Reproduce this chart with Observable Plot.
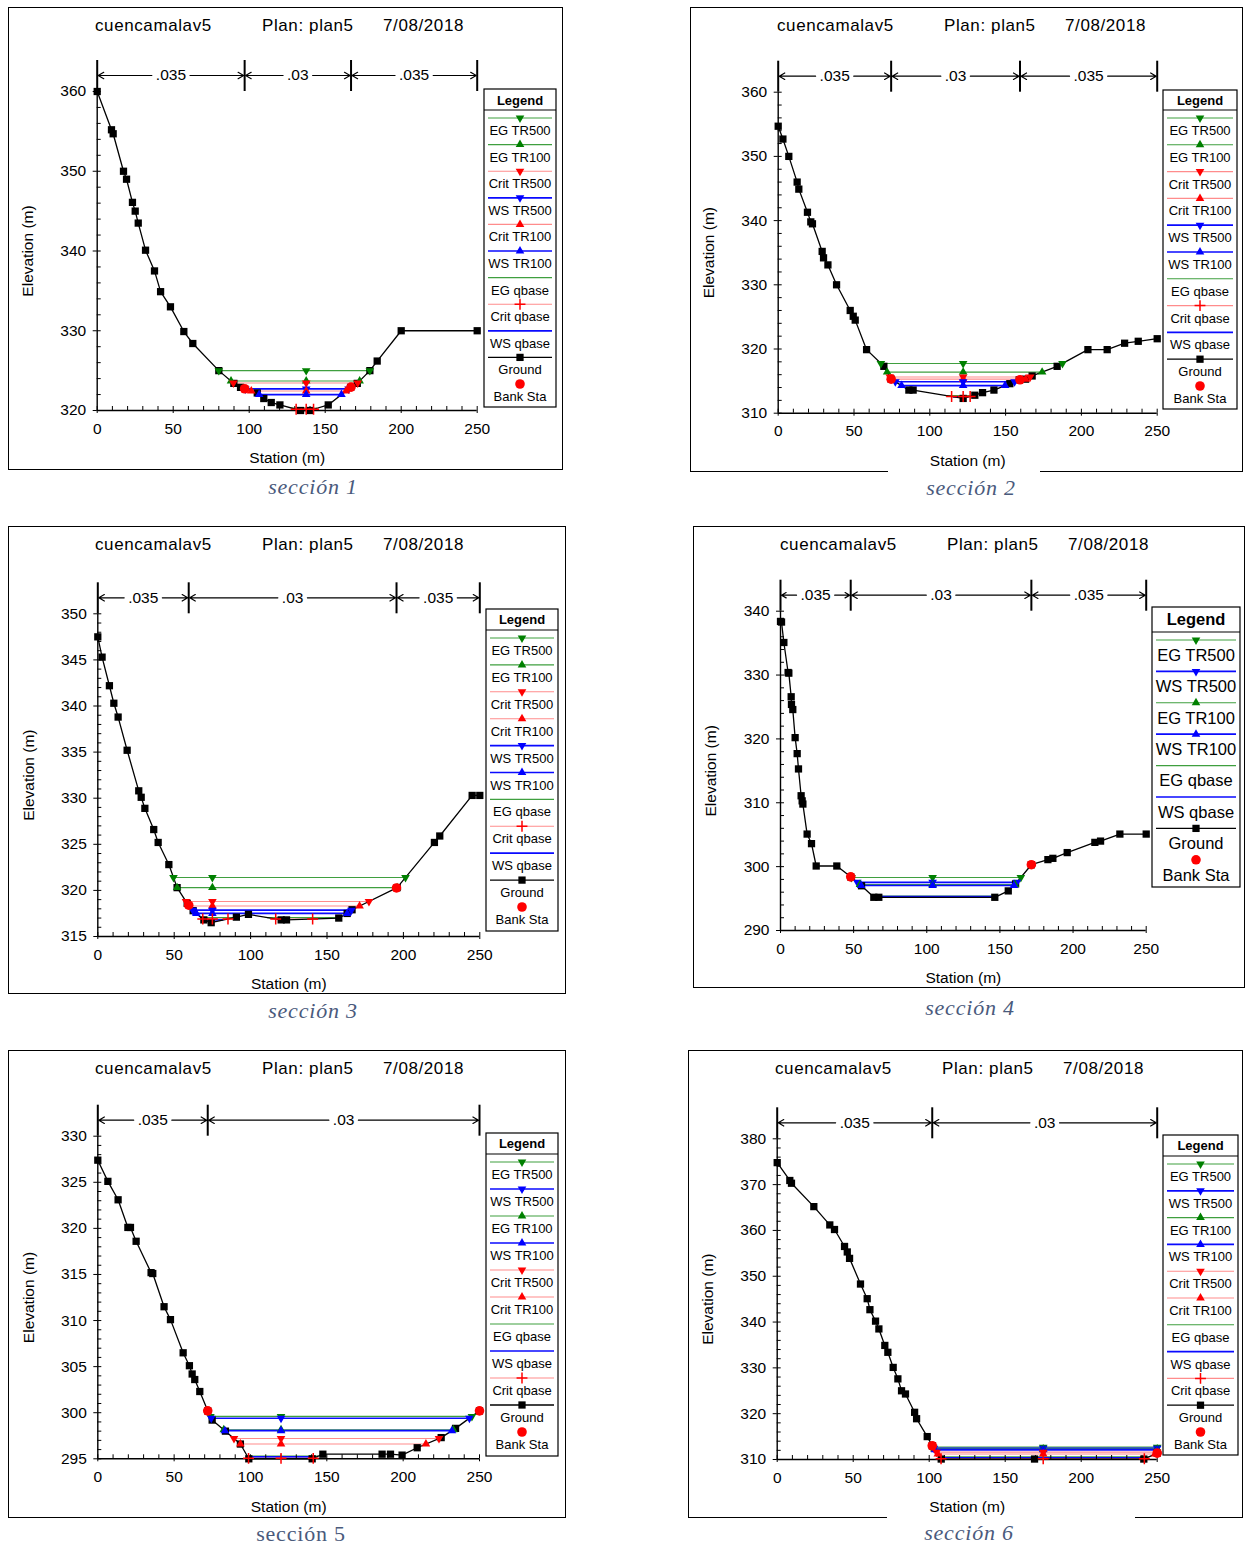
<!DOCTYPE html>
<html>
<head>
<meta charset="utf-8">
<script src="https://cdn.jsdelivr.net/npm/d3@7"></script>
<script src="https://cdn.jsdelivr.net/npm/@observablehq/plot@0.6"></script>
<style>
html,body{margin:0;padding:0;background:#fff;}
body{position:relative;width:1246px;height:1544px;overflow:hidden;font-family:"Liberation Sans",Arial,sans-serif;}
.box{position:absolute;border:1.4px solid #000;box-sizing:border-box;}
.ttl{position:absolute;font-size:17px;letter-spacing:0.6px;white-space:nowrap;transform:translateY(-50%);color:#000;line-height:1;}
.cap{position:absolute;font-family:"Liberation Serif","Times New Roman",serif;font-size:22px;letter-spacing:0.8px;color:#4a5a7c;white-space:nowrap;transform:translate(-50%,-50%);line-height:1;}
.mask{position:absolute;background:#fff;}
.layer{position:absolute;}
</style>
</head>
<body>
<script>
// ---------------- DATA ----------------
const xTicks = [0, 50, 100, 150, 200, 250];
const titleParts = ["cuencamalav5", "Plan: plan5", "7/08/2018"];
const captions = ["sección 1", "sección 2", "sección 3", "sección 4", "sección 5", "sección 6"];

// Section 1
const ground1 = [[0,360],[9.4,355.2],[10.5,354.7],[17.3,350],[19.3,349],[23.2,346.1],[25,345],[27,343.5],[31.8,340.1],[37.7,337.5],[41.7,334.9],[48.2,333],[57,329.9],[62.9,328.4],[80,325],[89.9,323.4],[94.3,322.9],[105.3,322.2],[109.6,321.5],[114.5,321],[120.2,320.7],[133.8,320],[139.7,320],[152,320.7],[166.7,322.9],[171.1,323.4],[179.4,325],[184.2,326.2],[200,330],[250,330]];
const banks1 = [97, 167];
const nValues1 = [".035", ".03", ".035"];
const names1 = ["EG TR500","EG TR100","Crit TR500","WS TR500","Crit TR100","WS TR100","EG qbase","Crit qbase","WS qbase"];
const levels1 = [325.0, 323.7, 323.45, 322.7, 322.45, 322.0, 320.3, 320.15, 320.1];
const mid1 = 137.5;
const yTicks1 = [320, 330, 340, 350, 360];

// Section 2
const ground2 = [[0,354.7],[3.1,352.7],[7,350],[12.5,346],[13.6,344.9],[19.3,341.3],[21.5,339.8],[22.6,339.5],[29,335.2],[29.9,334.2],[32.8,333.1],[38.5,330],[47.5,326],[49.5,325.1],[50.8,324.5],[58.3,319.9],[69.7,317.3],[74.5,315.3],[86.2,313.6],[89,313.6],[122,312.3],[129.7,312.8],[134.8,313.2],[142.3,313.6],[152.8,314.6],[159,315.2],[163.2,315.3],[167.5,315.8],[184,317.3],[204.3,319.9],[217,319.9],[228.5,320.9],[237.5,321.2],[250,321.6]];
const banks2 = [74.5, 159.5];
const nValues2 = [".035", ".03", ".035"];
const names2 = ["EG TR500","EG TR100","Crit TR500","Crit TR100","WS TR500","WS TR100","EG qbase","Crit qbase","WS qbase"];
const levels2 = [317.75, 316.4, 315.65, 315.3, 314.9, 314.3, 312.75, 312.6, 312.55];
const mid2 = 122;
const yTicks2 = [310, 320, 330, 340, 350, 360];

// Section 3
const ground3 = [[0,347.5],[2.8,345.3],[7.6,342.2],[10.5,340.3],[13.3,338.8],[19.2,335.2],[26.8,330.8],[28.4,330.1],[30.8,328.9],[36.6,326.6],[39.5,325.2],[46.5,322.8],[51.9,320.3],[58.5,318.6],[62.4,317.8],[69.4,316.8],[74.2,316.5],[90.7,317.1],[98.6,317.4],[120,316.8],[123.5,316.8],[157.7,317.0],[163.2,317.5],[166.4,317.9],[195.9,320.3],[220.3,325.2],[223.8,325.9],[245,330.3],[250,330.3]];
const banks3 = [59.5, 195.5];
const nValues3 = [".035", ".03", ".035"];
const names3 = ["EG TR500","EG TR100","Crit TR500","Crit TR100","WS TR500","WS TR100","EG qbase","Crit qbase","WS qbase"];
const levels3 = [321.4, 320.3, 318.8, 318.3, 317.85, 317.5, 317.05, 316.9, 316.8];
const mid3 = 75;
const yTicks3 = [315, 320, 325, 330, 335, 340, 345, 350];

// Section 4
const ground4 = [[0,338.4],[0.7,338.3],[2.3,335.1],[5.2,330.4],[5.7,330.3],[7.3,326.6],[7.5,325.4],[8.4,324.6],[10,320.2],[11.4,317.7],[12.3,315.3],[14.1,311.1],[14.8,310.3],[15.3,309.8],[18.2,305.1],[21.2,303.6],[24.4,300.1],[38.5,300.1],[48,298.4],[55.4,297],[63.8,295.2],[67.2,295.2],[146.5,295.2],[155.7,296.2],[160.7,297.3],[171.5,300.3],[182.8,301.1],[186.2,301.3],[196,302.2],[214.9,303.8],[218.8,304],[232,305.1],[250,305.1]];
const banks4 = [48, 171.5];
const nValues4 = [".035", ".03", ".035"];
const names4 = ["EG TR500","WS TR500","EG TR100","WS TR100","EG qbase","WS qbase"];
const levels4 = [298.3, 297.55, 297.2, 297.05, 295.4, 295.3];
const mid4 = 104;
const yTicks4 = [290, 300, 310, 320, 330, 340];

// Section 5
const ground5 = [[0,327.4],[6.6,325.1],[13.3,323.1],[19.7,320.1],[21.4,320.1],[25.1,318.6],[34.9,315.2],[36,315.1],[43.4,311.5],[47.6,310.1],[55.9,306.5],[60,305.1],[61.8,304.2],[63.5,303.6],[66.8,302.3],[72,300.2],[74.9,299.2],[83.6,298],[93.4,296.6],[98.9,295],[140.4,295],[147.4,295.5],[186.2,295.5],[191.7,295.5],[199.3,295.4],[209.2,296.2],[224.9,297.3],[234.3,298.3],[250,300.2]];
const banks5 = [72, 250];
const nValues5 = [".035", ".03"];
const names5 = ["EG TR500","WS TR500","EG TR100","WS TR100","Crit TR500","Crit TR100","EG qbase","WS qbase","Crit qbase"];
const levels5 = [299.6, 299.4, 298.15, 298.05, 297.2, 296.6, 295.3, 295.2, 295.05];
const mid5 = 120;
const yTicks5 = [295, 300, 305, 310, 315, 320, 325, 330];

// Section 6
const ground6 = [[0,374.8],[8.3,370.9],[9.4,370.3],[24.1,365.2],[34.6,361.2],[37.7,360.2],[44.3,356.5],[46.1,355.3],[47.6,353.9],[54.8,348.3],[59.2,345.1],[61,342.7],[64.7,340.2],[66.9,338.5],[70.8,334.9],[72.8,333.4],[76.3,330.1],[79.4,327.6],[81.8,325],[84.4,324.3],[90.4,320.3],[91.7,318.9],[98.7,315],[102,313],[107.9,310.1],[169.3,310.1],[241.2,310.1],[250,311.4]];
const banks6 = [102, 250];
const nValues6 = [".035", ".03"];
const names6 = ["EG TR500","WS TR500","EG TR100","WS TR100","Crit TR500","Crit TR100","EG qbase","WS qbase","Crit qbase"];
const levels6 = [312.7, 312.45, 312.3, 312.1, 311.6, 311.2, 310.6, 310.35, 310.15];
const mid6 = 175;
const yTicks6 = [310, 320, 330, 340, 350, 360, 370, 380];

// ---------------- LAYOUT ----------------
const sections = [
  {ground: ground1, banks: banks1, nValues: nValues1, names: names1, levels: levels1, mid: mid1, yTicks: yTicks1, minor: 2},
  {ground: ground2, banks: banks2, nValues: nValues2, names: names2, levels: levels2, mid: mid2, yTicks: yTicks2, minor: 2},
  {ground: ground3, banks: banks3, nValues: nValues3, names: names3, levels: levels3, mid: mid3, yTicks: yTicks3, minor: 1},
  {ground: ground4, banks: banks4, nValues: nValues4, names: names4, levels: levels4, mid: mid4, yTicks: yTicks4, minor: 2},
  {ground: ground5, banks: banks5, nValues: nValues5, names: names5, levels: levels5, mid: mid5, yTicks: yTicks5, minor: 1},
  {ground: ground6, banks: banks6, nValues: nValues6, names: names6, levels: levels6, mid: mid6, yTicks: yTicks6, minor: 2}
];
const layouts = [
  {box:[8,7,555,463], m:[84,86.3,60,88.7], lg:{box:[484,89,72,318], font:13, title:11, sep:21, first:29, lab:12.5, step:26.6}, cap:[313,487,true], mask:null},
  {box:[690,7,553,465], m:[84.7,86.3,59.3,87.7], lg:{box:[1163,90,74,319], font:13, title:10, sep:20, first:28, lab:12.5, step:26.8}, cap:[971,488,true], mask:[888,469.5,152,8]},
  {box:[8,526,558,468], m:[87.3,86.7,58,89.3], lg:{box:[486,609,72,322], font:13, title:10, sep:21, first:29, lab:12.5, step:26.9}, cap:[313,1011,true], mask:null},
  {box:[693,526,552,462], m:[84.7,99.3,58,87], lg:{box:[1152,607,88,280], font:16.5, title:12, sep:25, first:33, lab:15, step:31.4}, cap:[970,1008,true], mask:null},
  {box:[8,1050,558,468], m:[85.7,87,59.7,89.3], lg:{box:[486,1133,72,323], font:13, title:10, sep:21, first:29, lab:12.5, step:27}, cap:[301,1534,false], mask:null},
  {box:[688,1050,555,468], m:[88.3,86.3,59,88.7], lg:{box:[1163,1135,75,320], font:13, title:10, sep:21, first:29, lab:12.5, step:26.8}, cap:[969,1533,true], mask:[887,1515.5,248,8]}
];

// ---------------- HELPERS ----------------
function crossings(g, z) {
  const out = [];
  let start = g[0][1] < z ? g[0][0] : null;
  for (let i = 1; i < g.length; i++) {
    const [x0, e0] = g[i-1], [x1, e1] = g[i];
    if (start === null && e0 >= z && e1 < z) start = x0 + (x1 - x0) * (e0 - z) / (e0 - e1);
    else if (start !== null && e0 < z && e1 >= z) { out.push([start, x0 + (x1 - x0) * (z - e0) / (e1 - e0)]); start = null; }
  }
  if (start !== null) out.push([start, g[g.length-1][0]]);
  return out;
}
function elevAt(g, s) {
  for (let i = 1; i < g.length; i++) {
    if (s <= g[i][0]) { const [x0,e0] = g[i-1], [x1,e1] = g[i]; return x1 === x0 ? e1 : e0 + (e1 - e0) * (s - x0) / (x1 - x0); }
  }
  return g[g.length-1][1];
}
function styleOf(name) {
  const [kind, flow] = name.split(" ");
  const color = kind === "EG" ? "#008000" : kind === "WS" ? "#0000ff" : "#ff0000";
  const line = kind === "EG" ? "#3f9f3f" : kind === "WS" ? "#0a0aff" : "#ff8c8c";
  const width = kind === "WS" ? 1.7 : 1.1;
  const sym = flow === "TR500" ? "down" : flow === "TR100" ? "up" : (kind === "Crit" ? "plus" : null);
  return {color, line, width, sym};
}
const FONT = "'Liberation Sans', Arial, sans-serif";

function drawPanel(idx) {
  const d = sections[idx], lay = layouts[idx];
  const [L, T, W, H] = lay.box, [mt, mr, mb, ml] = lay.m;
  const y0 = d.yTicks[0], y1 = d.yTicks[d.yTicks.length - 1];
  const pxY = (H - mt - mb) / (y1 - y0);
  const pxX = (W - ml - mr) / 250;
  const yBar = y1 + 31 / pxY, yArr = y1 + 16 / pxY;
  const bounds = Array.from(new Set([0, ...d.banks, 250]));
  const zones = d.nValues.map((n, k) => ({a: bounds[k], b: bounds[k+1], m: (bounds[k] + bounds[k+1]) / 2, n}));
  const arrows = zones.flatMap(z => {
    const half = ((0.278 + (z.n.length - 1) * 0.556) * 15.5 / 2 + 4) / pxX;
    return [{a: z.m - half, b: z.a}, {a: z.m + half, b: z.b}];
  });
  const minorY = d3.range(y0, y1 + 1e-6, d.minor);
  const minorX = d3.range(0, 250 + 1e-6, 10);

  const lineMarks = [], markerMarks = [];
  d.names.forEach((name, k) => {
    const z = d.levels[k], st = styleOf(name);
    const segs = crossings(d.ground, z).map(([a, b]) => ({a, b, z}));
    lineMarks.push(Plot.ruleY(segs, {y: "z", x1: "a", x2: "b", stroke: st.line, strokeWidth: st.width}));
    if (st.sym) {
      const pts = [];
      segs.forEach(s => { pts.push({x: s.a, y: z}, {x: s.b, y: z}); if (d.mid >= s.a && d.mid <= s.b) pts.push({x: d.mid, y: z}); });
      if (st.sym === "plus") markerMarks.push(Plot.dot(pts, {x: "x", y: "y", symbol: "plus", r: 3.6, stroke: st.color, strokeWidth: 1.5}));
      else markerMarks.push(Plot.dot(pts, {x: "x", y: "y", symbol: "triangle", r: 3.2, fill: st.color, rotate: st.sym === "down" ? 180 : 0}));
    }
  });
  const bankPts = d.banks.map(s => ({x: s, y: elevAt(d.ground, s)}));

  const chart = Plot.plot({
    width: W, height: H,
    marginTop: mt, marginRight: mr, marginBottom: mb, marginLeft: ml,
    x: {domain: [0, 250]},
    y: {domain: [y0, y1]},
    style: {fontFamily: FONT, fontSize: "15.5px", background: "transparent", overflow: "visible", color: "#000"},
    marks: [
      ...lineMarks,
      Plot.ruleX([0], {x: v => v, y1: () => y0, y2: () => y1, stroke: "#000", strokeWidth: 1.4}),
      Plot.ruleY([y0], {y: v => v, x1: () => 0, x2: () => 250, stroke: "#000", strokeWidth: 1.4}),
      Plot.axisY(d.yTicks, {anchor: "left", tickSize: 4, tickPadding: 7, label: null, stroke: "#000", fill: "#000"}),
      Plot.axisY(minorY, {anchor: "left", tickSize: 4, dx: 4, tickFormat: () => "", label: null, stroke: "#000"}),
      Plot.axisX(xTicks, {anchor: "bottom", tickSize: 3, tickPadding: 9, label: null, stroke: "#000", fill: "#000"}),
      Plot.axisX(minorX, {anchor: "bottom", tickSize: 4, dy: -4, tickFormat: () => "", label: null, stroke: "#000"}),
      Plot.ruleX(bounds, {x: v => v, y1: () => y1, y2: () => yBar, stroke: "#000", strokeWidth: 2}),
      Plot.arrow(arrows, {x1: "a", x2: "b", y1: () => yArr, y2: () => yArr, bend: 0, headLength: 8, headAngle: 60, stroke: "#000", strokeWidth: 1.2, insetEnd: 1}),
      Plot.text(zones, {x: "m", y: () => yArr, text: "n", fontSize: 15.5, fill: "#000"}),
      Plot.line(d.ground, {x: p => p[0], y: p => p[1], stroke: "#000", strokeWidth: 1.3}),
      Plot.dot(d.ground, {x: p => p[0], y: p => p[1], symbol: "square", r: 4.1, fill: "#000"}),
      ...markerMarks,
      Plot.dot(bankPts, {x: "x", y: "y", r: 4.8, fill: "#ff0000"}),
      Plot.text(["Elevation (m)"], {text: v => v, frameAnchor: "left", textAnchor: "middle", lineAnchor: "middle", rotate: -90, dx: -69, fontSize: 15.5, fill: "#000"}),
      Plot.text(["Station (m)"], {text: v => v, frameAnchor: "bottom", textAnchor: "middle", lineAnchor: "middle", dy: 48, fontSize: 15.5, fill: "#000"})
    ]
  });
  chart.classList.add("layer");
  chart.style.left = L + "px";
  chart.style.top = T + "px";
  document.body.appendChild(chart);

  const box = document.createElement("div");
  box.className = "box";
  Object.assign(box.style, {left: L + "px", top: T + "px", width: W + "px", height: H + "px"});
  document.body.appendChild(box);

  [87, 254, 375].forEach((off, k) => {
    const t = document.createElement("div");
    t.className = "ttl";
    t.textContent = titleParts[k];
    Object.assign(t.style, {left: (L + off) + "px", top: (T + 18) + "px"});
    document.body.appendChild(t);
  });

  drawLegend(d, lay.lg);

  if (lay.mask) {
    const mk = document.createElement("div");
    mk.className = "mask";
    Object.assign(mk.style, {left: lay.mask[0] + "px", top: lay.mask[1] + "px", width: lay.mask[2] + "px", height: lay.mask[3] + "px"});
    document.body.appendChild(mk);
  }
  const cap = document.createElement("div");
  cap.className = "cap";
  cap.textContent = captions[idx];
  Object.assign(cap.style, {left: lay.cap[0] + "px", top: lay.cap[1] + "px", fontStyle: lay.cap[2] ? "italic" : "normal"});
  document.body.appendChild(cap);
}

function drawLegend(d, lg) {
  const [L, T, W, H] = lg.box;
  const entries = [...d.names, "Ground", "Bank Sta"];
  const svg = d3.select(document.body).append("svg")
    .attr("class", "layer").attr("width", W + 2).attr("height", H + 2)
    .style("left", (L - 1) + "px").style("top", (T - 1) + "px")
    .style("font-family", FONT);
  const g = svg.append("g").attr("transform", "translate(1,1)");
  g.append("rect").attr("x", 0).attr("y", 0).attr("width", W).attr("height", H)
    .attr("fill", "#fff").attr("stroke", "#000").attr("stroke-width", 1.2);
  g.append("text").attr("x", W / 2).attr("y", lg.title).attr("dy", "0.35em")
    .attr("text-anchor", "middle").attr("font-weight", "bold").attr("font-size", lg.font).text("Legend");
  g.append("line").attr("x1", 0).attr("x2", W).attr("y1", lg.sep).attr("y2", lg.sep).attr("stroke", "#000").attr("stroke-width", 1.2);
  const cx = W / 2;
  entries.forEach((name, i) => {
    const y = lg.first + i * lg.step;
    if (name === "Bank Sta") {
      g.append("circle").attr("cx", cx).attr("cy", y).attr("r", 4.8).attr("fill", "#ff0000");
    } else if (name === "Ground") {
      g.append("line").attr("x1", 4).attr("x2", W - 4).attr("y1", y).attr("y2", y).attr("stroke", "#000").attr("stroke-width", 1.3);
      g.append("path").attr("d", d3.symbol(d3.symbolSquare, Math.PI * 4.1 * 4.1)()).attr("transform", `translate(${cx},${y})`).attr("fill", "#000");
    } else {
      const st = styleOf(name);
      g.append("line").attr("x1", 4).attr("x2", W - 4).attr("y1", y).attr("y2", y).attr("stroke", st.line).attr("stroke-width", st.width);
      if (st.sym === "plus") {
        g.append("path").attr("d", d3.symbol(d3.symbolPlus, Math.PI * 3.6 * 3.6)()).attr("transform", `translate(${cx},${y})`).attr("fill", "none").attr("stroke", st.color).attr("stroke-width", 1.5);
      } else if (st.sym) {
        g.append("path").attr("d", d3.symbol(d3.symbolTriangle, Math.PI * 3.2 * 3.2)()).attr("transform", `translate(${cx},${y}) rotate(${st.sym === "down" ? 180 : 0})`).attr("fill", st.color);
      }
    }
    g.append("text").attr("x", cx).attr("y", y + lg.lab).attr("dy", "0.35em").attr("text-anchor", "middle")
      .attr("font-size", lg.font).text(name);
  });
}

for (let i = 0; i < 6; i++) drawPanel(i);
</script>
</body>
</html>
